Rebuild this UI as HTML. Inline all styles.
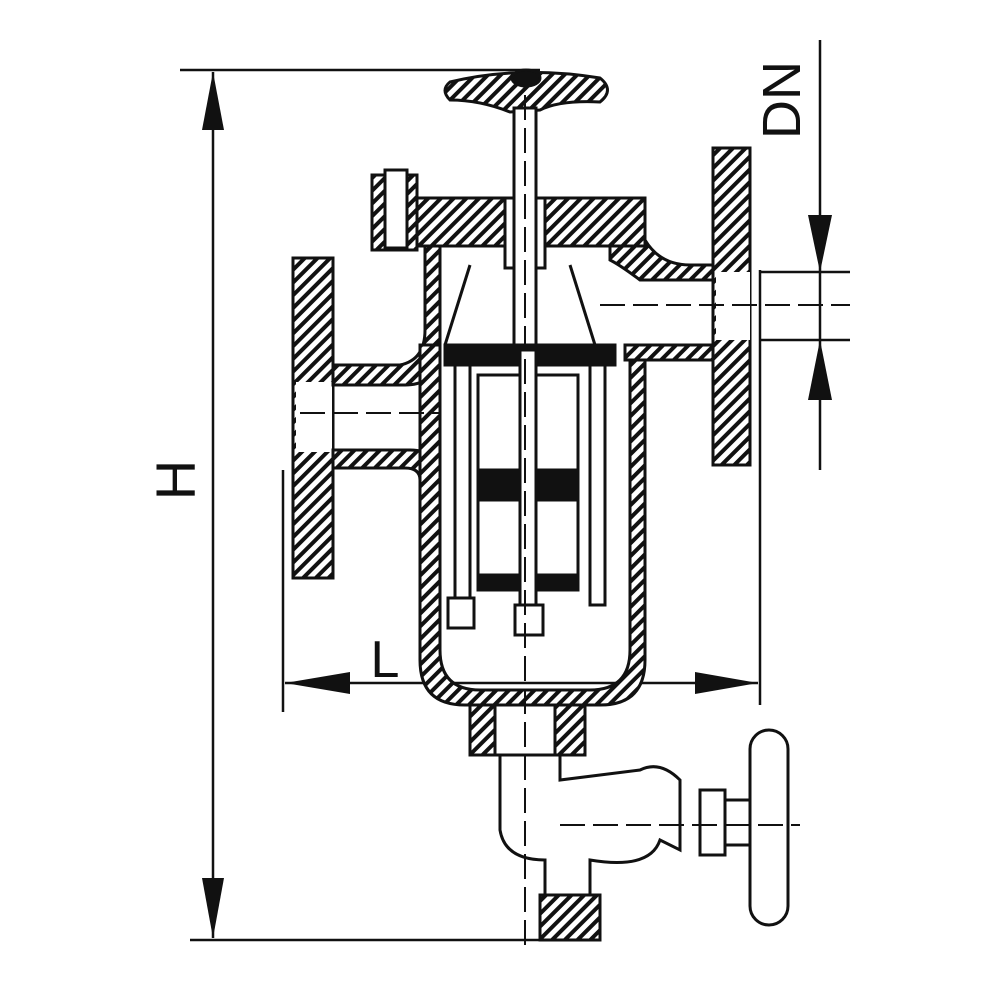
<!DOCTYPE html>
<html><head><style>html,body{margin:0;padding:0;background:#fff}svg{display:block}</style></head>
<body>
<svg width="1000" height="1000" viewBox="0 0 1000 1000" xmlns="http://www.w3.org/2000/svg">
<defs>
<pattern id="h" patternUnits="userSpaceOnUse" width="9" height="9" patternTransform="rotate(45)">
<rect width="9" height="9" fill="#fff"/><rect width="4" height="9" fill="#111"/>
</pattern>
</defs>
<g stroke="#111" stroke-width="2.5" fill="none">
<!-- H dimension -->
<line x1="180" y1="70" x2="540" y2="70"/>
<line x1="190" y1="940" x2="600" y2="940"/>
<line x1="213" y1="72" x2="213" y2="938"/>
<!-- L dimension -->
<line x1="283" y1="470" x2="283" y2="712"/>
<line x1="760" y1="270" x2="760" y2="705"/>
<line x1="285" y1="683" x2="758" y2="683"/>
<!-- DN -->
<line x1="820" y1="40" x2="820" y2="470"/>
<line x1="760" y1="272" x2="850" y2="272"/>
<line x1="760" y1="340" x2="850" y2="340"/>
</g>
<g fill="#111">
<polygon points="213,72 202,130 224,130"/>
<polygon points="213,938 202,878 224,878"/>
<polygon points="285,683 350,672 350,694"/>
<polygon points="758,683 695,672 695,694"/>
<polygon points="820,272 808,215 832,215"/>
<polygon points="820,340 808,400 832,400"/>
</g>
<text x="0" y="0" font-family="Liberation Sans, sans-serif" font-size="56" fill="#111" transform="translate(195,480) rotate(-90)" text-anchor="middle">H</text>
<text x="0" y="0" font-family="Liberation Sans, sans-serif" font-size="54" fill="#111" transform="translate(800,100) rotate(-90)" text-anchor="middle">DN</text>
<text x="385" y="677" font-family="Liberation Sans, sans-serif" font-size="52" fill="#111" text-anchor="middle">L</text>

<g stroke="#111" stroke-width="3">
<!-- left flange -->
<rect x="293" y="258" width="40" height="320" fill="url(#h)"/>
<rect x="296" y="382" width="36" height="70" fill="#fff" stroke="none"/>
<!-- left pipe walls -->
<path d="M333 365 L400 365 Q425 360 425 330 L425 240 L440 240 L440 345 Q440 385 405 385 L333 385Z" fill="url(#h)"/>
<path d="M333 450 L410 450 Q440 450 440 480 L420 480 Q420 468 405 468 L333 468Z" fill="url(#h)"/>
<!-- vessel -->
<path d="M420 345 L440 345 L440 650 Q440 690 480 690 L590 690 Q630 690 630 650 L630 345 L645 345 L645 660 Q645 705 600 705 L465 705 Q420 705 420 660Z" fill="url(#h)"/>
<!-- right pipe walls -->
<path d="M625 345 L715 345 L715 360 L625 360Z" fill="url(#h)"/>
<path d="M610 240 L645 240 Q660 265 690 265 L715 265 L715 280 L640 280 Q620 265 610 260Z" fill="url(#h)"/>
<!-- right flange -->
<rect x="713" y="148" width="37" height="317" fill="url(#h)"/>
<rect x="716" y="272" width="34" height="68" fill="#fff" stroke="none"/>
<!-- bonnet -->
<rect x="415" y="198" width="230" height="48" fill="url(#h)"/>
<rect x="505" y="198" width="40" height="70" fill="#fff"/>
<!-- bolt -->
<rect x="372" y="175" width="45" height="75" fill="url(#h)"/>
<rect x="385" y="170" width="22" height="78" fill="#fff"/>
<!-- handwheel -->
<path d="M450 82 Q520 65 600 78 Q615 90 600 102 Q560 100 540 110 L510 112 Q480 100 450 100 Q440 90 450 82Z" fill="url(#h)"/>
<ellipse cx="526" cy="78" rx="14" ry="8" fill="#111"/>
<!-- stem -->
<rect x="514" y="108" width="22" height="245" fill="#fff"/>
<!-- internal cage -->
<rect x="445" y="345" width="170" height="20" fill="#111"/>
<rect x="455" y="365" width="15" height="240" fill="#fff"/>
<rect x="590" y="365" width="15" height="240" fill="#fff"/>
<rect x="478" y="375" width="100" height="215" fill="#fff"/>
<rect x="478" y="470" width="100" height="30" fill="#111"/>
<rect x="478" y="575" width="100" height="15" fill="#111"/>
<rect x="520" y="350" width="16" height="260" fill="#fff"/>
<rect x="448" y="598" width="26" height="30" fill="#fff"/>
<rect x="515" y="605" width="28" height="30" fill="#fff"/>
<line x1="470" y1="265" x2="445" y2="345"/>
<line x1="570" y1="265" x2="595" y2="345"/>
<!-- drain -->
<rect x="470" y="705" width="115" height="50" fill="url(#h)"/>
<rect x="495" y="705" width="60" height="50" fill="#fff"/>
<path d="M500 755 L500 830 Q505 860 545 860 L545 895 L590 895 L590 860 Q650 870 660 840 L680 850 L680 780 Q660 760 640 770 L560 780 L560 755Z" fill="#fff"/>
<rect x="540" y="895" width="60" height="45" fill="url(#h)"/>
<rect x="700" y="790" width="25" height="65" fill="#fff"/>
<rect x="725" y="800" width="25" height="45" fill="#fff"/>
<rect x="750" y="730" width="38" height="195" rx="19" fill="#fff"/>
</g>
<g stroke="#111" stroke-width="2" stroke-dasharray="25,8" fill="none">
<line x1="525" y1="95" x2="525" y2="950"/>
<line x1="300" y1="413" x2="440" y2="413"/>
<line x1="600" y1="305" x2="850" y2="305"/>
<line x1="560" y1="825" x2="800" y2="825"/>
</g>
</svg>
</body></html>
